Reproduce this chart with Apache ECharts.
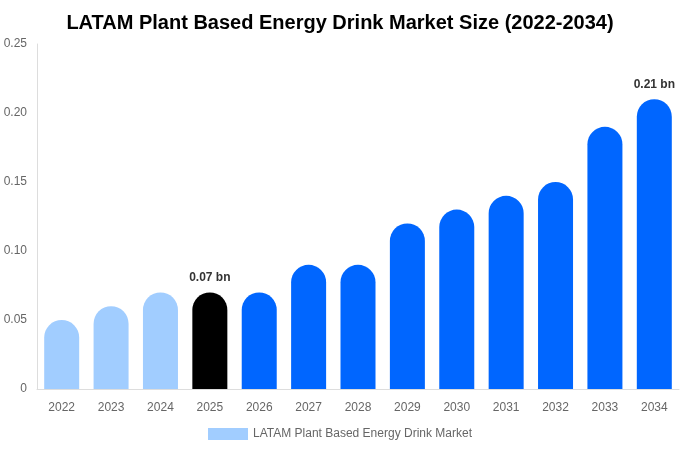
<!DOCTYPE html>
<html>
<head>
<meta charset="utf-8">
<script src="https://cdn.jsdelivr.net/npm/echarts@6/dist/echarts.min.js"></script>
<style>html,body{margin:0;padding:0;background:#fff;}#c{width:680px;height:450px;}</style>
</head>
<body>
<div id="c"></div>
<script>
const years = ['2022','2023','2024','2025','2026','2027','2028','2029','2030','2031','2032','2033','2034'];
const values = [0.05,0.06,0.07,0.07,0.07,0.09,0.09,0.12,0.13,0.14,0.15,0.19,0.21];
const barColors = ['#a1cdff','#a1cdff','#a1cdff','#000000','#0066ff','#0066ff','#0066ff','#0066ff','#0066ff','#0066ff','#0066ff','#0066ff','#0066ff'];
const labeledYears = ['2025','2034'];
const yTicks = [0,0.05,0.10,0.15,0.20,0.25];
const seriesName = 'LATAM Plant Based Energy Drink Market';

const chart = echarts.init(document.getElementById('c'));
chart.setOption({
  animation:false,
  title:{text:'LATAM Plant Based Energy Drink Market Size (2022-2034)',left:'center',top:8,
    textStyle:{fontSize:20,fontWeight:'bold',color:'#000',fontFamily:'Liberation Sans, Arial, sans-serif'}},
  grid:{left:37,right:1,top:44,bottom:61},
  legend:{bottom:5,left:'center',itemWidth:40,itemHeight:12,icon:'rect',
    textStyle:{color:'#666',fontSize:12,fontFamily:'Liberation Sans, Arial, sans-serif'},
    data:[{name:seriesName,itemStyle:{color:'#a1cdff',borderRadius:0}}]},
  xAxis:{type:'category',data:years,
    axisLine:{lineStyle:{color:'#ddd'}},axisTick:{show:false},
    axisLabel:{color:'#666',fontSize:12,margin:13,fontFamily:'Liberation Sans, Arial, sans-serif'}},
  yAxis:{type:'value',min:yTicks[0],max:yTicks[yTicks.length-1],interval:0.05,
    splitLine:{show:false},
    axisLine:{show:true,lineStyle:{color:'#ddd'}},axisTick:{show:false},
    axisLabel:{color:'#666',fontSize:12,margin:10,fontFamily:'Liberation Sans, Arial, sans-serif',
      formatter:function(v){return v===0?'0':v.toFixed(2);}}},
  series:[{
    name:seriesName,type:'bar',barWidth:35,
    itemStyle:{color:'#a1cdff',borderRadius:[18,18,0,0]},
    data:values.map(function(v,i){
      const item={value:v,itemStyle:{color:barColors[i],borderRadius:[18,18,0,0]}};
      if(labeledYears.indexOf(years[i])>=0){
        item.label={show:true,position:'top',distance:9,formatter:function(p){return p.value.toFixed(2)+' bn';},
          fontWeight:'bold',fontSize:12,color:'#333',fontFamily:'Liberation Sans, Arial, sans-serif'};
      }
      return item;
    })
  }]
});
</script>
</body>
</html>
